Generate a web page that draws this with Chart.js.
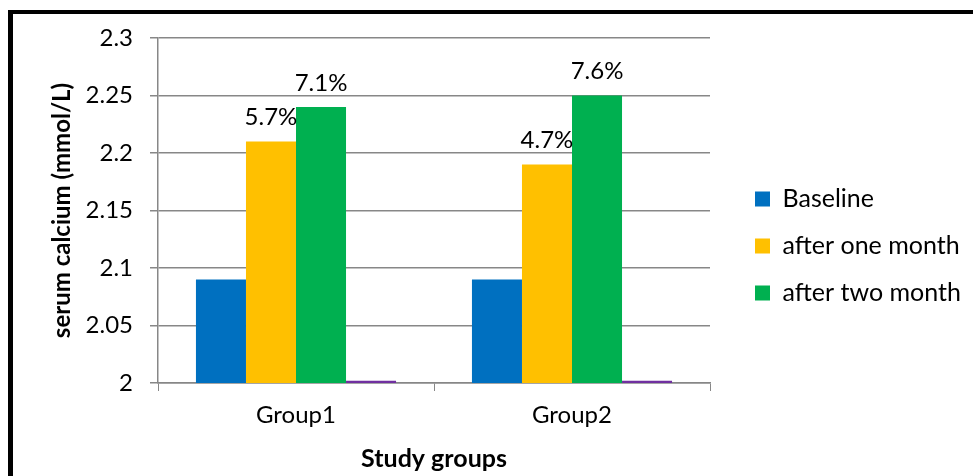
<!DOCTYPE html>
<html>
<head>
<meta charset="utf-8">
<script src="https://cdn.jsdelivr.net/npm/chart.js@4.4.1/dist/chart.umd.min.js"></script>
<style>
  html, body { margin: 0; padding: 0; background: #fff; }
  #wrap { position: relative; width: 973px; height: 476px; overflow: hidden; }
  #frame { position: absolute; left: 8px; top: 10px; width: 980px; height: 480px;
           border-top: 4px solid #000; border-left: 5px solid #000; pointer-events: none; }
  canvas { position: absolute; left: 0; top: 0; }
</style>
</head>
<body>
<div id="wrap">
  <canvas id="c" width="973" height="476"></canvas>
  <div id="frame"></div>
</div>
<script>
const categories = ["Group1", "Group2"];
const seriesNames = ["Baseline", "after one month", "after two month", ""];
const baseline = [2.09, 2.09];
const afterOneMonth = [2.21, 2.19];
const afterTwoMonth = [2.24, 2.25];
const hiddenSeries = [2.002, 2.002];
const oneMonthLabels = ["5.7%", "4.7%"];
const twoMonthLabels = ["7.1%", "7.6%"];
const yTickLabels = ["2", "2.05", "2.1", "2.15", "2.2", "2.25", "2.3"];

const FONT = "Lato";
const GRID = "#878787";

const labelPlugin = {
  id: "barLabels",
  afterDatasetsDraw(chart) {
    const ctx = chart.ctx;
    ctx.save();
    ctx.font = "24px " + FONT;
    ctx.fillStyle = "#000";
    ctx.textAlign = "center";
    ctx.textBaseline = "middle";
    [[1, oneMonthLabels], [2, twoMonthLabels]].forEach(([di, labels]) => {
      const meta = chart.getDatasetMeta(di);
      meta.data.forEach((bar, i) => {
        ctx.fillText(labels[i], bar.x, bar.y - 24);
      });
    });
    ctx.restore();
  }
};

const legendPlacer = {
  id: "legendPlacer",
  beforeLayout(chart) {
    const lg = chart.legend;
    if (lg && !lg._patched) {
      const origFit = lg.fit;
      lg.fit = function () { origFit.call(this); this.width = 263; };
      lg._patched = true;
    }
  },
  afterLayout(chart) {
    const lg = chart.legend;
    if (lg) {
      lg.left = 733; lg.right = 973; lg.width = 240;
      lg.top = 164.5; lg.bottom = 420; lg.height = 255.5;
    }
  }
};

new Chart(document.getElementById("c"), {
  type: "bar",
  data: {
    labels: categories,
    datasets: [
      { label: seriesNames[0], data: baseline, backgroundColor: "#0070C0" },
      { label: seriesNames[1], data: afterOneMonth, backgroundColor: "#FFC000" },
      { label: seriesNames[2], data: afterTwoMonth, backgroundColor: "#00B050" },
      { label: seriesNames[3], data: hiddenSeries, backgroundColor: "#7030A0" }
    ]
  },
  options: {
    responsive: false,
    animation: false,
    layout: { padding: { top: 38, left: 0, right: 0, bottom: 0 } },
    datasets: { bar: { categoryPercentage: 0.725, barPercentage: 1.0 } },
    plugins: {
      tooltip: { enabled: false },
      legend: {
        position: "right",
        align: "start",
        labels: {
          boxWidth: 15, boxHeight: 15, padding: 22, color: "#000",
          font: { family: FONT, size: 25 },
          filter: (item) => item.datasetIndex < 3
        }
      }
    },
    scales: {
      x: {
        grid: { drawOnChartArea: false, drawTicks: true, tickLength: 8, color: GRID, offset: true },
        border: { color: GRID, width: 1.5 },
        ticks: { color: "#000", font: { family: FONT, size: 24 }, padding: 10 },
        title: { display: true, text: "Study groups", color: "#000",
                 font: { family: FONT, size: 25, weight: "bold" }, padding: { top: 0, bottom: 2 } },
        afterFit(scale) { scale.height = 93; }
      },
      y: {
        min: 2, max: 2.3,
        grid: { color: GRID, tickLength: 8, lineWidth: 1.5 },
        border: { color: GRID, width: 1.5 },
        ticks: { stepSize: 0.05, color: "#000", font: { family: FONT, size: 24 }, padding: 17,
                 callback: (v, i) => yTickLabels[i] },
        title: { display: true, text: "serum calcium (mmol/L)", color: "#000",
                 font: { family: FONT, size: 24, weight: "bold" }, padding: { top: 48, bottom: 0 } },
        afterFit(scale) { scale.width = 158; }
      }
    }
  },
  plugins: [labelPlugin, legendPlacer]
});
</script>
</body>
</html>
